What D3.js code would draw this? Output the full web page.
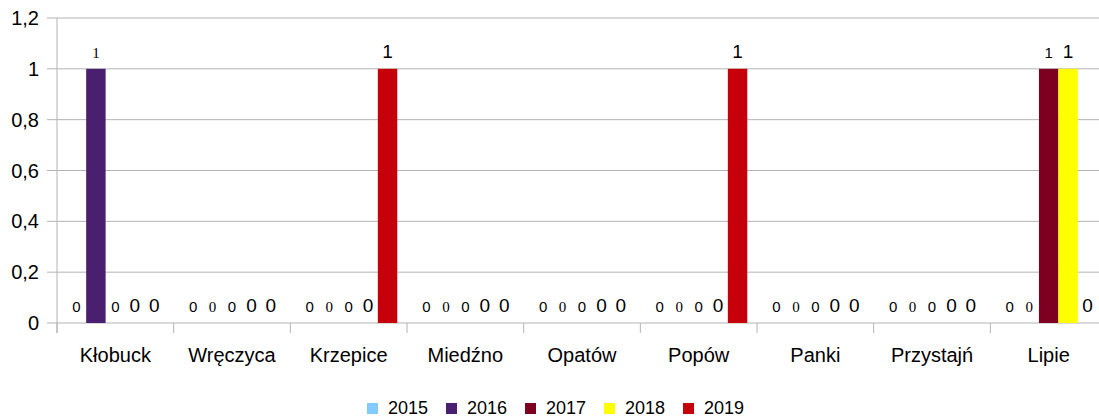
<!DOCTYPE html>
<html>
<head>
<meta charset="utf-8">
<script src="https://cdn.jsdelivr.net/npm/d3@7"></script>
<style>
  body { margin: 0; background: #fff; overflow: hidden; }
  text { font-family: "Liberation Sans", Arial, sans-serif; fill: #000; }
</style>
</head>
<body>
<svg id="chart" width="1099" height="419"></svg>
<script>
const categories = ["Kłobuck", "Wręczyca", "Krzepice", "Miedźno", "Opatów", "Popów", "Panki", "Przystajń", "Lipie"];
const series = ["2015", "2016", "2017", "2018", "2019"];
const values2015 = [0, 0, 0, 0, 0, 0, 0, 0, 0];
const values2016 = [1, 0, 0, 0, 0, 0, 0, 0, 0];
const values2017 = [0, 0, 0, 0, 0, 0, 0, 0, 1];
const values2018 = [0, 0, 0, 0, 0, 0, 0, 0, 1];
const values2019 = [0, 0, 1, 0, 0, 1, 0, 0, 0];
const yTicks = [0, 0.2, 0.4, 0.6, 0.8, 1, 1.2];

const colors = ["#83caff", "#4b1f6f", "#7e0021", "#ffff00", "#c5000b"];
// label styling differs per series in the original
const labelFont = [
  { family: "Liberation Sans", size: 15 },
  { family: "Liberation Serif", size: 15 },
  { family: "Liberation Sans", size: 15 },
  { family: "Liberation Sans", size: 19 },
  { family: "Liberation Sans", size: 19 }
];

const allValues = [values2015, values2016, values2017, values2018, values2019];

const svg = d3.select("#chart");
const margin = { left: 57, top: 18 };
const plotW = 1050, plotH = 305;

const x0 = d3.scaleBand().domain(categories).range([margin.left, margin.left + plotW]).paddingInner(0).paddingOuter(0);
const x1 = d3.scaleBand().domain(series).range([0, x0.bandwidth()]).paddingInner(0).paddingOuter(0.5);
const y = d3.scaleLinear().domain([0, 1.2]).range([margin.top + plotH, margin.top]);

const fmt = d => d3.format(".1f")(d).replace(".", ",").replace(",0", "");

// gridlines
svg.append("g")
  .selectAll("line")
  .data(yTicks)
  .join("line")
    .attr("x1", margin.left - 10)
    .attr("x2", margin.left + plotW)
    .attr("y1", d => y(d))
    .attr("y2", d => y(d))
    .attr("stroke", "#b3b3b3")
    .attr("stroke-width", 1);

// y axis line
svg.append("line")
  .attr("x1", margin.left).attr("x2", margin.left)
  .attr("y1", y(1.2)).attr("y2", y(0) + 10)
  .attr("stroke", "#b3b3b3");

// y tick labels
svg.append("g")
  .selectAll("text")
  .data(yTicks)
  .join("text")
    .attr("x", 39)
    .attr("y", d => y(d))
    .attr("dy", "0.35em")
    .attr("text-anchor", "end")
    .style("font-size", "20px")
    .text(d => fmt(d));

// x axis ticks at category boundaries
svg.append("g")
  .selectAll("line")
  .data(d3.range(categories.length + 1))
  .join("line")
    .attr("x1", i => margin.left + i * x0.step())
    .attr("x2", i => margin.left + i * x0.step())
    .attr("y1", y(0))
    .attr("y2", y(0) + 10)
    .attr("stroke", "#b3b3b3");

// x labels
svg.append("g")
  .selectAll("text")
  .data(categories)
  .join("text")
    .attr("x", d => x0(d) + x0.bandwidth() / 2)
    .attr("y", 362)
    .attr("text-anchor", "middle")
    .style("font-size", "20px")
    .text(d => d);

// bars
const groups = svg.append("g")
  .selectAll("g")
  .data(categories)
  .join("g")
    .attr("transform", d => "translate(" + x0(d) + ",0)");

groups.selectAll("rect")
  .data((d, i) => series.map((s, j) => ({ s: s, j: j, v: allValues[j][i] })))
  .join("rect")
    .attr("x", d => x1(d.s))
    .attr("width", x1.bandwidth())
    .attr("y", d => y(d.v))
    .attr("height", d => y(0) - y(d.v))
    .attr("fill", d => colors[d.j]);

groups.selectAll("text")
  .data((d, i) => series.map((s, j) => ({ s: s, j: j, v: allValues[j][i] })))
  .join("text")
    .attr("x", d => x1(d.s) + x1.bandwidth() / 2)
    .attr("y", d => y(d.v) - 11)
    .attr("text-anchor", "middle")
    .style("font-family", d => labelFont[d.j].family)
    .style("font-size", d => labelFont[d.j].size + "px")
    .text(d => d.v);

// legend
const legend = svg.append("g").attr("transform", "translate(367,403)");
const legendStep = 79;
series.forEach((s, j) => {
  legend.append("rect")
    .attr("x", j * legendStep)
    .attr("y", 0)
    .attr("width", 11)
    .attr("height", 11)
    .attr("fill", colors[j]);
  legend.append("text")
    .attr("x", j * legendStep + 21)
    .attr("y", 11)
    .style("font-size", "18px")
    .text(s);
});
</script>
</body>
</html>
